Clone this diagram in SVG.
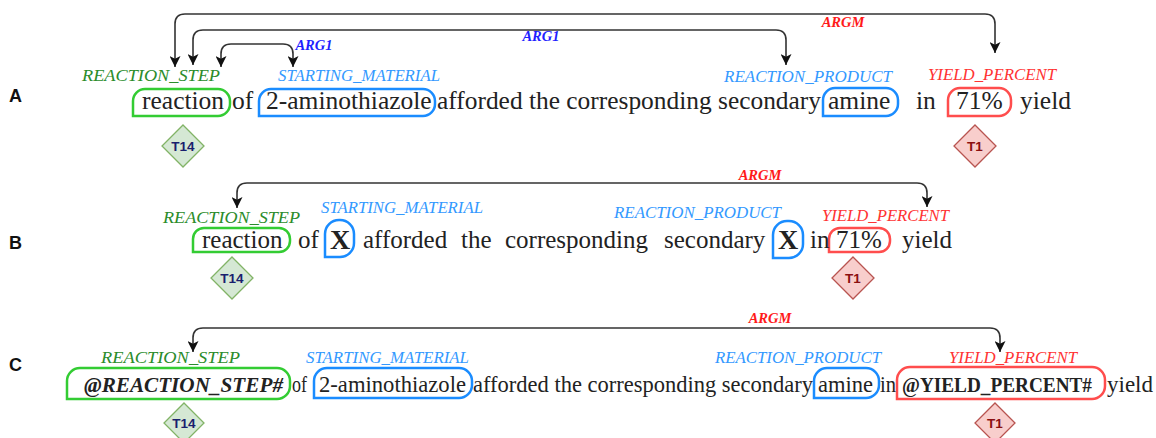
<svg xmlns="http://www.w3.org/2000/svg" width="1156" height="438" viewBox="0 0 1156 438">
  <defs>
    <marker id="arrow" viewBox="0 0 10 10" markerUnits="userSpaceOnUse" markerWidth="11" markerHeight="11" refX="10" refY="5" orient="auto-start-reverse">
      <path d="M0,0 L10,5 L0,10 L2.5,5 z" fill="#111"/>
    </marker>
    <style>
      .row { font-family: "Liberation Sans", Arial, sans-serif; font-weight: bold; font-size: 18px; fill: #111; }
      .word { font-family: "Liberation Serif", "Times New Roman", serif; fill: #222; }
      .a { font-size: 25.5px; }
      .b { font-size: 25px; }
      .c { font-size: 24px; }
      .ent { font-family: "Liberation Serif", "Times New Roman", serif; font-style: italic; font-size: 17.5px; }
      .step { fill: #2b8c2b; }
      .mat { fill: #3399ff; }
      .yld { fill: #ff3333; }
      .rel { font-family: "Liberation Serif", "Times New Roman", serif; font-style: italic; font-weight: bold; font-size: 14.5px; text-anchor: middle; }
      .arg1 { fill: #1f1fff; }
      .argm { fill: #ff1a1a; }
      .box { fill: none; stroke-width: 2.5; }
      .gbox { stroke: #33cc33; }
      .bbox { stroke: #1a8cff; }
      .rbox { stroke: #ff4d4d; }
      .conn { fill: none; stroke: #333; stroke-width: 1.6; marker-start: url(#arrow); marker-end: url(#arrow); }
      .dg { fill: #d5e8d4; stroke: #82b366; stroke-width: 1.3; }
      .dr { fill: #f8cecc; stroke: #b85450; stroke-width: 1.3; }
      .tag { font-family: "Liberation Sans", Arial, sans-serif; font-size: 13.5px; font-weight: bold; text-anchor: middle; }
      .tg { fill: #1a1f6e; }
      .tr { fill: #8b1010; }
    </style>
  </defs>

  <rect width="1156" height="438" fill="#ffffff"/>

  <!-- row letters -->
  <text class="row" x="9" y="102">A</text>
  <text class="row" x="9" y="249">B</text>
  <text class="row" x="9" y="371">C</text>

  <!-- relation arcs -->
  <g id="connectors">
    <path class="conn" d="M175,67 V24 Q175,14 185,14 H985 Q995,14 995,24 V53"/>
    <path class="conn" d="M193,65 V40 Q193,30 203,30 H776 Q786,30 786,40 V65"/>
    <path class="conn" d="M221,67 V54 Q221,44 231,44 H283 Q293,44 293,54 V67"/>
    <path class="conn" d="M237,208 V193 Q237,183 247,183 H917 Q927,183 927,193 V207"/>
    <path class="conn" d="M193,352 V338 Q193,328 203,328 H990 Q1000,328 1000,338 V352"/>
    <text class="rel argm" x="843" y="27">ARGM</text>
    <text class="rel arg1" x="541" y="41">ARG1</text>
    <text class="rel arg1" x="314" y="50">ARG1</text>
    <text class="rel argm" x="760" y="180">ARGM</text>
    <text class="rel argm" x="770" y="323">ARGM</text>
  </g>

  <!-- Row A -->
  <g id="rowA">
    <g id="a-step">
      <path class="box gbox" d="M133,116 V101 A12,12 0 0 1 145,89 H218 A12,12 0 0 1 230,101 V104 A12,12 0 0 1 218,116 Z"/>
      <text class="ent step" x="82" y="81" textLength="138" lengthAdjust="spacingAndGlyphs">REACTION_STEP</text>
    </g>
    <g id="a-material">
      <path class="box bbox" d="M259,116 V101 A12,12 0 0 1 271,89 H423 A12,12 0 0 1 435,101 V104 A12,12 0 0 1 423,116 Z"/>
      <text class="ent mat" x="278" y="81" textLength="162" lengthAdjust="spacingAndGlyphs">STARTING_MATERIAL</text>
    </g>
    <g id="a-product">
      <path class="box bbox" d="M823,116 V100 A12,12 0 0 1 835,88 H886 A12,12 0 0 1 898,100 V104 A12,12 0 0 1 886,116 Z"/>
      <text class="ent mat" x="724" y="82" textLength="168" lengthAdjust="spacingAndGlyphs">REACTION_PRODUCT</text>
    </g>
    <g id="a-yield">
      <path class="box rbox" d="M948,116 V100 A12,12 0 0 1 960,88 H999 A12,12 0 0 1 1011,100 V104 A12,12 0 0 1 999,116 Z"/>
      <text class="ent yld" x="928" y="80" textLength="128" lengthAdjust="spacingAndGlyphs">YIELD_PERCENT</text>
    </g>
    <text class="word a" x="142" y="109">reaction</text>
    <text class="word a" x="232" y="109">of</text>
    <text class="word a" x="266" y="109">2-aminothiazole</text>
    <text class="word a" x="437" y="109" textLength="384" lengthAdjust="spacingAndGlyphs">afforded the corresponding secondary</text>
    <text class="word a" x="828" y="109">amine</text>
    <text class="word a" x="916" y="109">in</text>
    <text class="word a" x="956" y="109">71%</text>
    <text class="word a" x="1020" y="109">yield</text>
    <g id="a-T14">
      <path class="dg" d="M183,125 L204,146 L183,167 L162,146 Z"/>
      <text class="tag tg" x="183" y="151">T14</text>
    </g>
    <g id="a-T1">
      <path class="dr" d="M975,125 L996,146 L975,167 L954,146 Z"/>
      <text class="tag tr" x="975" y="151">T1</text>
    </g>
  </g>

  <!-- Row B -->
  <g id="rowB">
    <g id="b-step">
      <path class="box gbox" d="M193,252 V239 A11,11 0 0 1 204,228 H279 A11,11 0 0 1 290,239 V241 A11,11 0 0 1 279,252 Z"/>
      <text class="ent step" x="163" y="223" textLength="137" lengthAdjust="spacingAndGlyphs">REACTION_STEP</text>
    </g>
    <g id="b-material">
      <path class="box bbox" d="M325,257 V234 A14,14 0 0 1 339,220 H340 A14,14 0 0 1 354,234 V243 A14,14 0 0 1 340,257 Z"/>
      <text class="ent mat" x="321" y="213" textLength="162" lengthAdjust="spacingAndGlyphs">STARTING_MATERIAL</text>
    </g>
    <g id="b-product">
      <path class="box bbox" d="M773,258 V235 A14,14 0 0 1 787,221 H789 A14,14 0 0 1 803,235 V244 A14,14 0 0 1 789,258 Z"/>
      <text class="ent mat" x="614" y="218" textLength="167" lengthAdjust="spacingAndGlyphs">REACTION_PRODUCT</text>
    </g>
    <g id="b-yield">
      <path class="box rbox" d="M829,252 V239 A11,11 0 0 1 840,228 H879 A11,11 0 0 1 890,239 V241 A11,11 0 0 1 879,252 Z"/>
      <text class="ent yld" x="822" y="221" textLength="127" lengthAdjust="spacingAndGlyphs">YIELD_PERCENT</text>
    </g>
    <text class="word b" x="202" y="248">reaction</text>
    <text class="word b" x="298" y="248">of</text>
    <text class="word" x="330" y="249" font-size="28" font-weight="bold">X</text>
    <text class="word b" x="363" y="248">afforded</text>
    <text class="word b" x="461" y="248">the</text>
    <text class="word b" x="505" y="248">corresponding</text>
    <text class="word b" x="664" y="248">secondary</text>
    <text class="word" x="778" y="249" font-size="28" font-weight="bold">X</text>
    <text class="word b" x="810" y="248">in</text>
    <text class="word b" x="836" y="248">71%</text>
    <text class="word b" x="902" y="248">yield</text>
    <g id="b-T14">
      <path class="dg" d="M232,257 L253,278 L232,299 L211,278 Z"/>
      <text class="tag tg" x="232" y="283">T14</text>
    </g>
    <g id="b-T1">
      <path class="dr" d="M853,257 L874,278 L853,299 L832,278 Z"/>
      <text class="tag tr" x="853" y="283">T1</text>
    </g>
  </g>

  <!-- Row C -->
  <g id="rowC">
    <g id="c-step">
      <path class="box gbox" d="M67,399 V381 A13,13 0 0 1 80,368 H277 A13,13 0 0 1 290,381 V386 A13,13 0 0 1 277,399 Z"/>
      <text class="ent step" x="101" y="363" textLength="139" lengthAdjust="spacingAndGlyphs">REACTION_STEP</text>
    </g>
    <g id="c-material">
      <path class="box bbox" d="M314,398 V381 A13,13 0 0 1 327,368 H459 A13,13 0 0 1 472,381 V385 A13,13 0 0 1 459,398 Z"/>
      <text class="ent mat" x="306" y="363" textLength="163" lengthAdjust="spacingAndGlyphs">STARTING_MATERIAL</text>
    </g>
    <g id="c-product">
      <path class="box bbox" d="M814,398 V381 A13,13 0 0 1 827,368 H866 A13,13 0 0 1 879,381 V385 A13,13 0 0 1 866,398 Z"/>
      <text class="ent mat" x="715" y="363" textLength="166" lengthAdjust="spacingAndGlyphs">REACTION_PRODUCT</text>
    </g>
    <g id="c-yield">
      <path class="box rbox" d="M897,399 V380 A13,13 0 0 1 910,367 H1092 A13,13 0 0 1 1105,380 V386 A13,13 0 0 1 1092,399 Z"/>
      <text class="ent yld" x="949" y="363" textLength="128" lengthAdjust="spacingAndGlyphs">YIELD_PERCENT</text>
    </g>
    <text class="word" x="84" y="392" font-size="21" font-weight="bold" font-style="italic" textLength="199" lengthAdjust="spacingAndGlyphs">@REACTION_STEP#</text>
    <text class="word c" x="292" y="392" textLength="15" lengthAdjust="spacingAndGlyphs">of</text>
    <text class="word" x="319" y="392" font-size="22.6" textLength="147" lengthAdjust="spacingAndGlyphs">2-aminothiazole</text>
    <text class="word" x="473" y="392" font-size="22.4" textLength="340" lengthAdjust="spacingAndGlyphs">afforded the corresponding secondary</text>
    <text class="word c" x="818" y="392" textLength="55" lengthAdjust="spacingAndGlyphs">amine</text>
    <text class="word c" x="880" y="392" textLength="16" lengthAdjust="spacingAndGlyphs">in</text>
    <text class="word" x="902" y="392" font-size="20.5" font-weight="bold" textLength="190" lengthAdjust="spacingAndGlyphs">@YIELD_PERCENT#</text>
    <text class="word c" x="1107" y="392" textLength="46" lengthAdjust="spacingAndGlyphs">yield</text>
    <g id="c-T14">
      <path class="dg" d="M184,403 L204,423 L184,443 L164,423 Z"/>
      <text class="tag tg" x="184" y="428">T14</text>
    </g>
    <g id="c-T1">
      <path class="dr" d="M995,403 L1015,423 L995,443 L975,423 Z"/>
      <text class="tag tr" x="995" y="428">T1</text>
    </g>
  </g>
</svg>
